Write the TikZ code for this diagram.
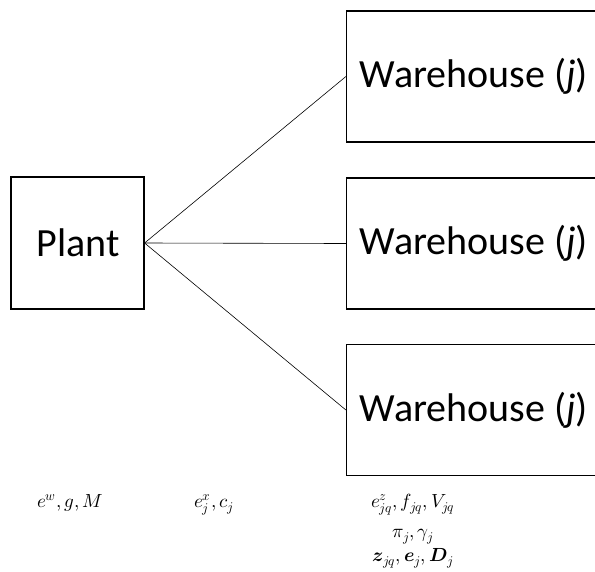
\documentclass[tikz,border=0pt]{standalone}
\usepackage{amsmath}
\usepackage{fontspec}
\usepackage{unicode-math}
\setmainfont{Carlito}
\setmathfont{Latin Modern Math}
\tikzset{
  box/.style={draw=black, line width=1.2pt, fill=white, inner sep=0pt},
  lbl/.style={font=\fontsize{40}{48}\selectfont, inner sep=0pt},
  conn/.style={draw=black, line width=0.6pt},
  mth/.style={font=\fontsize{19}{23}\selectfont, inner sep=0pt, anchor=base}
}
\begin{document}
\begin{tikzpicture}[x=1pt,y=-1pt]
\clip (0,0) rectangle (595,571);
\fill[white] (0,0) rectangle (595,571);
% boxes
\node[box, minimum width=133pt, minimum height=132pt] (plant) at (77.5,243) {};
\node[box, minimum width=280pt, minimum height=131pt] (w1) at (486.5,76.5) {};
\node[box, minimum width=280pt, minimum height=131pt] (w2) at (486.5,243.5) {};
\node[box, minimum width=280pt, minimum height=131pt] (w3) at (486.5,410) {};
% connectors
\draw[conn] (plant.east) -- (w1.west);
\draw[conn] (plant.east) -- (w2.west);
\draw[conn] (plant.east) -- (w3.west);
% texts
\node[lbl] (tp) at (78,243) {Plant};
\node[lbl] (t1) at (474,76.5) {Warehouse (\textit{j})};
\node[lbl] (t2) at (474,243.5) {Warehouse (\textit{j})};
\node[lbl] (t3) at (474,410) {Warehouse (\textit{j})};
% math labels
\node[mth] (m1) at (70,507) {$e^{w}, g, M$};
\node[mth] (m2) at (214,507) {$e_{j}^{x}, c_{j}$};
\node[mth] (m3) at (413,507) {$e_{jq}^{z}, f_{jq}, V_{jq}$};
\node[mth] (m4) at (413,537) {$\pi_{j}, \gamma_{j}$};
\node[mth] (m5) at (413,561) {$\symbfit{z}_{jq}, \symbfit{e}_{j}, \symbfit{D}_{j}$};
\end{tikzpicture}
\end{document}
